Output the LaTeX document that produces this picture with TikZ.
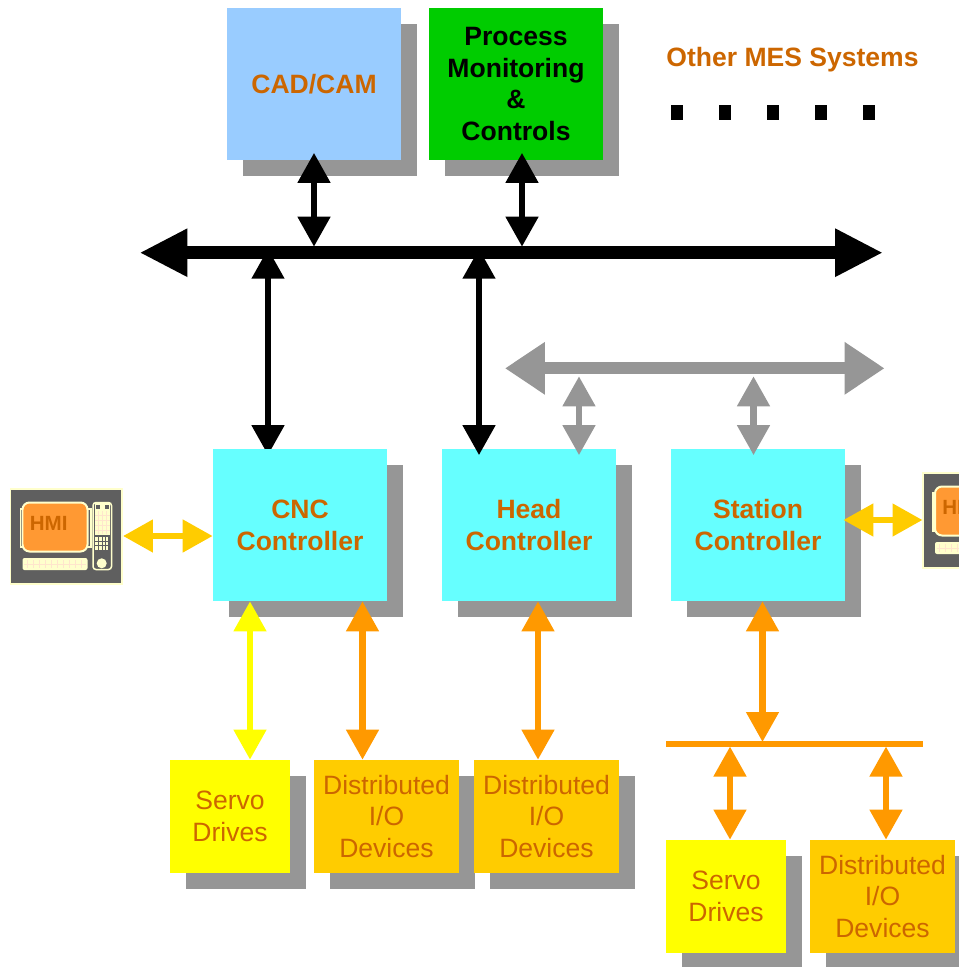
\documentclass[tikz,border=0pt]{standalone}
\usepackage{fontspec}
\setmainfont{Liberation Sans}
\usepackage{xcolor}
\usetikzlibrary{arrows.meta,shadows,positioning,calc,backgrounds}
\definecolor{mesblue}{RGB}{153,204,255}
\definecolor{mesgreen}{RGB}{0,204,0}
\definecolor{mescyan}{RGB}{102,255,255}
\definecolor{mesyellow}{RGB}{255,255,0}
\definecolor{mesgold}{RGB}{255,204,0}
\definecolor{mesorange}{RGB}{255,153,0}
\definecolor{mestext}{RGB}{204,102,0}
\definecolor{mesgrey}{RGB}{150,150,150}
\definecolor{hmidark}{RGB}{95,95,95}
\definecolor{hmicream}{RGB}{255,255,204}
\definecolor{hmiscreen}{RGB}{255,153,51}
\tikzset{
    box/.style n args={3}{fill=#1, minimum width=#2, minimum height=#3, inner sep=0pt, align=center,
        font=\fontsize{15.1}{18.2}\selectfont, text=mestext,
        drop shadow={shadow xshift=0.32cm, shadow yshift=-0.32cm, fill=mesgrey, opacity=1}},
    boldbox/.style={font=\fontsize{15.1}{18.2}\selectfont\bfseries},
    link/.style n args={3}{line width=#1, <->, >={Triangle[length=#2,width=#3]}},
    thinlink/.style={link={0.125cm}{0.6cm}{0.63cm}},
    hmi/.pic={
        \fill[hmidark, draw=hmicream, line width=0.03cm] (-0.5,0) rectangle (111,95);
        % Screen
        \draw[hmicream, line width=0.03cm] (9.5,20) rectangle (14,58);
        \draw[hmicream, line width=0.03cm] (75,20) rectangle (80,58);
        \fill[hmiscreen, draw=hmicream, line width=0.04cm, rounded corners=0.14cm] (11.5,13.5) rectangle (76.5,62.5);
        \node[font=\fontsize{11.7}{14}\selectfont\bfseries, text=mestext, inner sep=0pt] (-label) at (37.7,34.3) {HMI};
        % Keyboard
        \fill[hmicream, rounded corners=0.04cm] (11.5,69) rectangle (76.5,81);
        \foreach \xpos in {16,22,...,72} {\draw[hmiscreen!25, line width=0.01cm] (\xpos,71) -- (\xpos,79);}
        \draw[hmiscreen!25, line width=0.01cm] (13,75) -- (75,75);
        % Tower
        \draw[hmicream, line width=0.03cm, rounded corners=0.06cm] (82,13.5) rectangle (100.5,80.5);
        \fill[hmicream] (84,14) rectangle (99,46);
        \fill[hmidark] (85,15.5) rectangle (88.5,20);
        \fill[hmidark] (94,15.5) rectangle (97.5,20);
        \foreach \xpos in {87,91,95} {\draw[hmiscreen!25, line width=0.01cm] (\xpos,22) -- (\xpos,45);}
        \foreach \ypos in {26,31,36,41} {\draw[hmiscreen!25, line width=0.01cm] (84,\ypos) -- (99,\ypos);}
        \fill[hmicream] (84,48) rectangle (97,60.5);
        \foreach \xpos in {87.5,91,94.5} {\draw[hmidark, line width=0.02cm] (\xpos,48) -- (\xpos,60.5);}
        \foreach \ypos in {52,56.5} {\draw[hmidark, line width=0.02cm] (84,\ypos) -- (97,\ypos);}
        \fill[hmicream] (90.7,74.3) circle (0.1cm);
    }
}
\begin{document}
\begin{tikzpicture}[x=0.02cm, y=-0.02cm]
    \useasboundingbox (0,0) rectangle (959,967);

    % Upper systems
    \node[box={mesblue}{3.48cm}{3.04cm}, boldbox] (cadcam) at (314,84) {CAD/CAM};
    \node[box={mesgreen}{3.48cm}{3.04cm}, boldbox, text=black] (process) at (516,84) {Process\\Monitoring\\\&\\Controls};
    \node[boldbox, text=mestext, inner sep=0pt] (othermes) at (792.5,60) {Other MES Systems};
    \foreach \xpos in {671,719,767,815,863} {
        \fill[black] (\xpos,105) rectangle ++(12,15);
    }

    % Controllers
    \node[box={mescyan}{3.48cm}{3.04cm}, boldbox] (cnc) at (300,525) {CNC\\Controller};
    \node[box={mescyan}{3.48cm}{3.04cm}, boldbox] (head) at (529,525) {Head\\Controller};
    \node[box={mescyan}{3.48cm}{3.04cm}, boldbox] (station) at (758,525) {Station\\Controller};

    % Field devices
    \node[box={mesyellow}{2.4cm}{2.26cm}] (servoa) at (230,816.5) {Servo\\Drives};
    \node[box={mesgold}{2.9cm}{2.26cm}] (dioa) at (386.5,816.5) {Distributed\\I/O\\Devices};
    \node[box={mesgold}{2.9cm}{2.26cm}] (diob) at (546.5,816.5) {Distributed\\I/O\\Devices};
    \node[box={mesyellow}{2.4cm}{2.26cm}] (servob) at (726,896.5) {Servo\\Drives};
    \node[box={mesgold}{2.9cm}{2.26cm}] (dioc) at (882.5,896.5) {Distributed\\I/O\\Devices};

    % Operator panels
    \pic (hmileft) at (11,489) {hmi};
    \pic (hmiright) at (923.5,473) {hmi};
    \coordinate (leftpanel) at (123,536);
    \coordinate (rightpanel) at (922.5,520);

    % Buses
    \coordinate (mainleft) at (139.5,252.7);
    \coordinate (mainright) at (883,252.7);
    \coordinate (greyleft) at (505,368.3);
    \coordinate (greyright) at (884.5,368.3);
    \coordinate (fieldleft) at (666,744);
    \coordinate (fieldright) at (922.5,744);
    \draw[link={0.25cm}{0.96cm}{0.9cm}] (mainleft) -- (mainright);
    \draw[link={0.24cm}{0.8cm}{1cm}, mesgrey] (greyleft) -- (greyright);
    \draw[mesorange, line width=0.12cm] (fieldleft) -- (fieldright);

    % Upper links
    \draw[thinlink, shorten >=0.12cm] ([yshift=0.15cm]cadcam.south) -- (cadcam.south |- mainleft);
    \draw[thinlink, shorten >=0.12cm] ([xshift=0.12cm, yshift=0.15cm]process.south) -- ([xshift=0.12cm]process.south |- mainleft);
    \begin{scope}[on background layer]
        \draw[thinlink, shorten <=-0.08cm] ([xshift=-0.64cm]cnc.north |- mainleft) -- ([xshift=-0.64cm, yshift=-0.13cm]cnc.north);
    \end{scope}
    \draw[thinlink, shorten <=-0.08cm] ([xshift=-1cm]head.north |- mainleft) -- ([xshift=-1cm, yshift=-0.13cm]head.north);
    \draw[thinlink, mesgrey, shorten <=0.16cm] ([xshift=1cm]head.north |- greyleft) -- ([xshift=1cm, yshift=-0.13cm]head.north);
    \draw[thinlink, mesgrey, shorten <=0.16cm] ([xshift=-0.09cm]station.north |- greyleft) -- ([xshift=-0.09cm, yshift=-0.13cm]station.north);

    % Panel links
    \draw[thinlink, mesgold] (leftpanel) -- (cnc.west |- leftpanel);
    \draw[thinlink, mesgold, shorten <=-0.04cm] (station.east |- rightpanel) -- (rightpanel);

    % Lower links
    \draw[thinlink, mesyellow] ([xshift=0.4cm]servoa.north |- cnc.south) -- ([xshift=0.4cm]servoa.north);
    \draw[thinlink, mesorange] ([xshift=-0.48cm]dioa.north |- cnc.south) -- ([xshift=-0.48cm]dioa.north);
    \draw[thinlink, mesorange] ([xshift=-0.17cm]diob.north |- head.south) -- ([xshift=-0.17cm]diob.north);
    \draw[thinlink, mesorange, shorten >=0.04cm] ([xshift=0.09cm]station.south) -- ([xshift=0.09cm]station.south |- fieldleft);
    \draw[thinlink, mesorange, shorten <=0.05cm] ([xshift=0.08cm]servob.north |- fieldleft) -- ([xshift=0.08cm]servob.north);
    \draw[thinlink, mesorange, shorten <=0.05cm] ([xshift=0.07cm]dioc.north |- fieldleft) -- ([xshift=0.07cm]dioc.north);
\end{tikzpicture}
\end{document}
